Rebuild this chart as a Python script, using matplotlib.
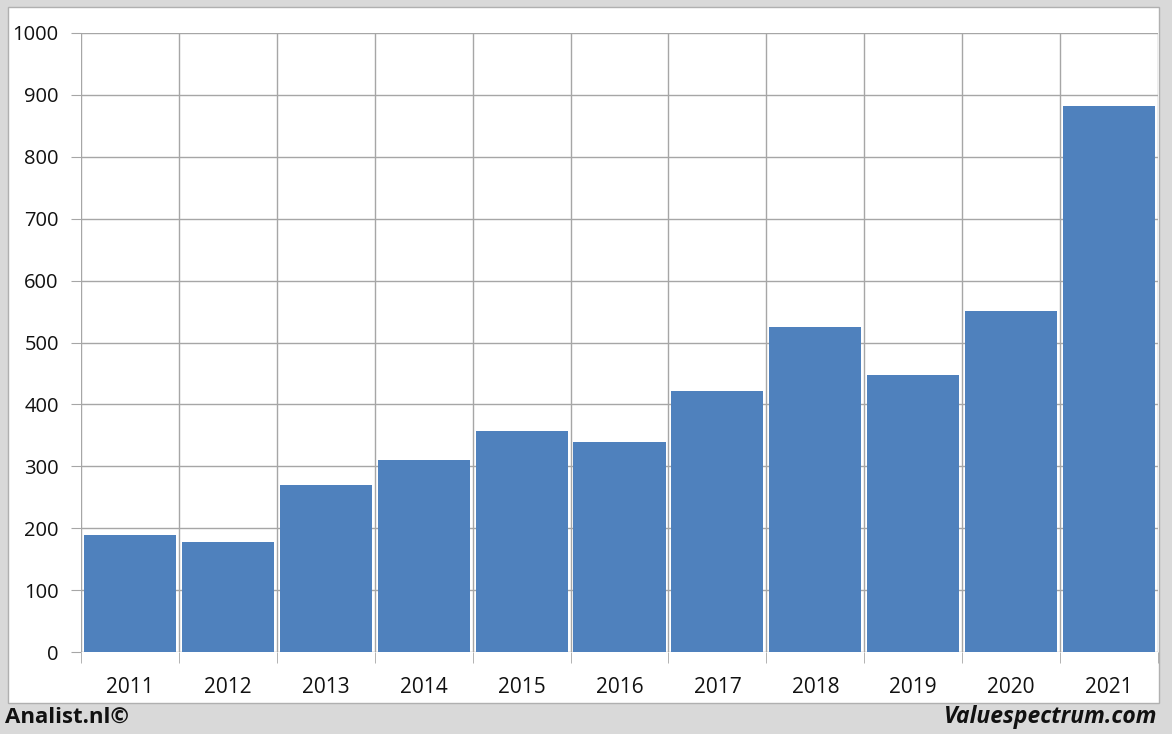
import matplotlib.pyplot as plt
import numpy as np
from matplotlib.patches import Rectangle

# Data
years = ['2011', '2012', '2013', '2014', '2015', '2016', '2017', '2018', '2019', '2020', '2021']
values = [189, 178, 270, 310, 357, 339, 422, 525, 447, 551, 882]
y_ticks = [0, 100, 200, 300, 400, 500, 600, 700, 800, 900, 1000]

plt.rcParams['font.family'] = ['Open Sans', 'DejaVu Sans']

fig = plt.figure(figsize=(11.72, 7.34), dpi=100)
fig.patch.set_facecolor('#d9d9d9')

# white panel behind the chart
panel = Rectangle((8 / 1172, 1 - 703 / 734), (1159 - 8) / 1172, (703 - 7) / 734,
                  transform=fig.transFigure, facecolor='white', edgecolor='#b0b0b0',
                  linewidth=1, zorder=-5)
fig.patches.append(panel)

ax = fig.add_axes([81 / 1172, 1 - 652 / 734, (1158 - 81) / 1172, (652 - 33) / 734])
ax.set_facecolor('none')
ax.set_zorder(2)

x = np.arange(len(years))
ax.bar(x, values, width=0.94, color='#4f81bd', zorder=2)

ax.set_xlim(-0.5, len(years) - 0.5)
ax.set_ylim(0, 1000)
ax.set_yticks(y_ticks)
ax.set_yticklabels([str(t) for t in y_ticks], fontsize=14.5, color='#111111')

# gridlines at category boundaries
bounds = np.arange(len(years) + 1) - 0.5
for b in bounds:
    ax.axvline(b, color='#a6a6a6', linewidth=1, zorder=1)
for t in y_ticks:
    ax.axhline(t, color='#a6a6a6', linewidth=1, zorder=1)

ax.set_xticks(bounds, minor=True)
ax.set_xticks(x)
ax.set_xticklabels(years, fontsize=15, color='#111111')
ax.tick_params(axis='x', which='major', length=0, pad=18)
ax.tick_params(axis='x', which='minor', length=8, color='#a6a6a6')
ax.tick_params(axis='y', length=7, color='#a6a6a6', pad=9)

for s in ax.spines.values():
    s.set_visible(False)

fig.text(5 / 1172, 1 - 717 / 734, 'Analist.nl©', fontsize=16, fontweight='bold',
         ha='left', va='center', color='#111111')
fig.text(1157 / 1172, 1 - 717 / 734, 'Valuespectrum.com', fontsize=16.5, fontweight='bold',
         fontstyle='italic', ha='right', va='center', color='#111111')

plt.savefig('out.png', dpi=100, facecolor=fig.get_facecolor())
plt.close()
